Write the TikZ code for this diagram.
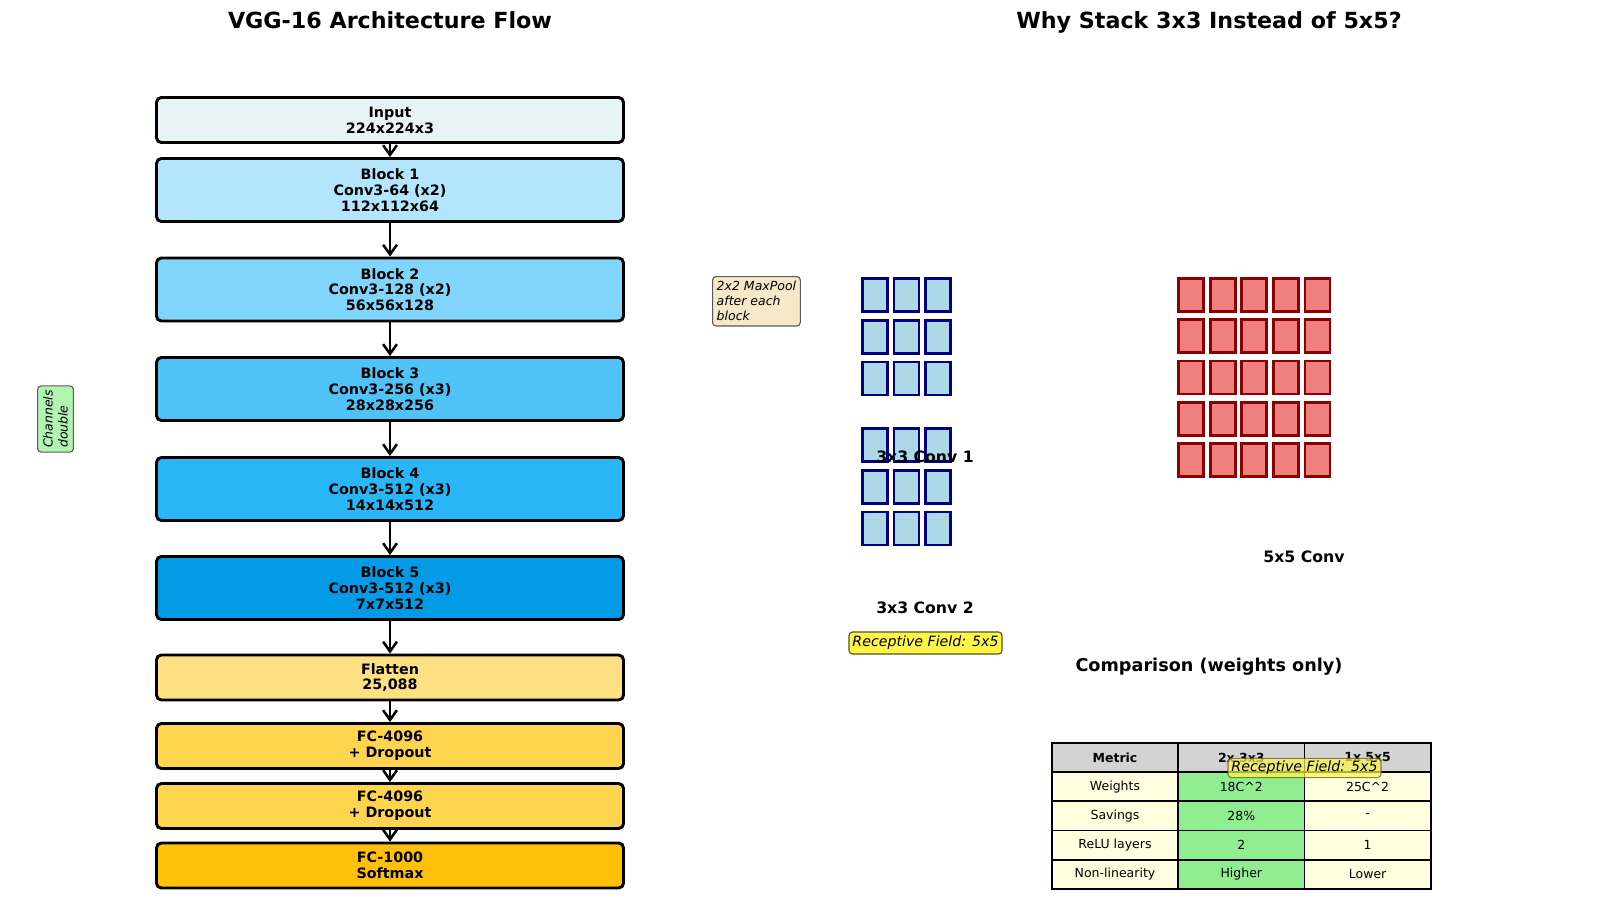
\documentclass[tikz,border=0pt]{standalone}
\usepackage{fontspec}
\setmainfont{DejaVu Sans}
\usetikzlibrary{arrows.meta}
\def\ppx{0.72pt}
\definecolor{cin}{HTML}{E8F3F8}
\definecolor{cbone}{HTML}{B3E5FC}
\definecolor{cbtwo}{HTML}{81D4FA}
\definecolor{cbthree}{HTML}{4FC3F7}
\definecolor{cbfour}{HTML}{29B6F6}
\definecolor{cbfive}{HTML}{039BE5}
\definecolor{cflat}{HTML}{FFE082}
\definecolor{cfc}{HTML}{FFD54F}
\definecolor{cout}{HTML}{FFC107}
\definecolor{notegreen}{HTML}{B1F3B1}
\definecolor{notewheat}{HTML}{F8E8CA}
\definecolor{kfill}{HTML}{ADD8E6}
\definecolor{kedge}{HTML}{000080}
\definecolor{rfill}{HTML}{F08080}
\definecolor{redge}{HTML}{8B0000}
\definecolor{hdgray}{HTML}{D3D3D3}
\definecolor{lyellow}{HTML}{FFFFE0}
\definecolor{lgreen}{HTML}{90EE90}
\definecolor{rfedge}{HTML}{55551E}
\begin{document}
\begin{tikzpicture}[x=\ppx,y=-\ppx,
	layer/.style={draw=black, line width=2.1pt, rounded corners=3.5pt, minimum width=467*\ppx, align=center, inner sep=0pt, font=\fontsize{10.3}{11.4}\selectfont\bfseries},
	tall/.style={layer, minimum height=63*\ppx},
	short/.style={layer, minimum height=45*\ppx},
	flow/.style={line width=1.8pt, -{Straight Barb[length=7pt,width=10pt,line width=1.8pt]}},
	note/.style={draw=black!65, line width=0.8pt, rounded corners=2.5pt, align=left, inner xsep=3pt, inner ysep=3.5pt, font=\fontsize{9}{10.8}\selectfont\itshape},
	rf/.style={draw=rfedge, fill=yellow!72, line width=0.8pt, rounded corners=2.5pt, inner xsep=2.5pt, inner ysep=3pt, font=\fontsize{10.2}{12}\selectfont\itshape},
	ttl/.style={font=\fontsize{16}{18}\selectfont\bfseries, text depth=0pt},
	lbl/.style={font=\fontsize{11.3}{13}\selectfont\bfseries},
	cell/.style={draw=black, line width=1.2pt, fill=lyellow, minimum width=126.3*\ppx, minimum height=29.2*\ppx, inner sep=0pt, font=\fontsize{9}{10}\selectfont},
	hd/.style={cell, fill=hdgray, font=\fontsize{9}{10}\selectfont\bfseries},
	kblue/.style={draw=kedge, fill=kfill, line width=2pt},
	kred/.style={draw=redge, fill=rfill, line width=2pt}]
	\useasboundingbox (0,0) rectangle (1600,909);
	\node[ttl] (tleft) at (390,20.5) {VGG-16 Architecture Flow};
	\node[ttl] (tright) at (1209,20.5) {Why Stack 3x3 Instead of 5x5?};
	\node[short, fill=cin] (inp) at (390,120) {Input\\224x224x3};
	\node[tall, fill=cbone] (b1) at (390,190) {Block 1\\Conv3-64 (x2)\\112x112x64};
	\node[tall, fill=cbtwo] (b2) at (390,289.5) {Block 2\\Conv3-128 (x2)\\56x56x128};
	\node[tall, fill=cbthree] (b3) at (390,389) {Block 3\\Conv3-256 (x3)\\28x28x256};
	\node[tall, fill=cbfour] (b4) at (390,489) {Block 4\\Conv3-512 (x3)\\14x14x512};
	\node[tall, fill=cbfive] (b5) at (390,588) {Block 5\\Conv3-512 (x3)\\7x7x512};
	\node[short, fill=cflat] (flat) at (390,677.5) {Flatten\\25,088};
	\node[short, fill=cfc] (fca) at (390,746) {FC-4096\\+ Dropout};
	\node[short, fill=cfc] (fcb) at (390,806) {FC-4096\\+ Dropout};
	\node[short, fill=cout] (fcc) at (390,865.5) {FC-1000\\Softmax};
	\foreach \a/\b in {inp/b1,b1/b2,b2/b3,b3/b4,b4/b5,b5/flat,flat/fca,fca/fcb,fcb/fcc}
		\draw[flow] (\a.south) -- (\b.north);
	\node[note, fill=notegreen, rotate=90, inner ysep=4pt, inner xsep=3pt] (chan) at (55.5,419) {Channels\\double};
	\node[note, fill=notewheat, anchor=north west] (pool) at (712,276) {2x2 MaxPool\\after each\\block};
	\foreach \i in {0,1,2}
		\foreach \j in {0,1,2} {
			\draw[kblue] ({862.5+31.5*\i},{278.5+41.75*\j}) rectangle ++(25,33);
			\draw[kblue] ({862.5+31.5*\i},{428.5+41.75*\j}) rectangle ++(25,33);
		}
	\foreach \i in {0,...,4}
		\foreach \j in {0,...,4}
			\draw[kred] ({1178.5+31.6*\i},{278.5+41.3*\j}) rectangle ++(25,33);
	\node[lbl] (conv1) at (925,457) {3x3 Conv 1};
	\node[lbl] (conv2) at (925,608) {3x3 Conv 2};
	\node[lbl] (conv5) at (1304,557) {5x5 Conv};
	\node[rf] (rfa) at (925.5,643) {Receptive Field: 5x5};
	\node[font=\fontsize{12.7}{14}\selectfont\bfseries] (cmp) at (1209,667) {Comparison (weights only)};
	\node[hd] (h1) at (1115,757.5) {Metric};
	\node[hd] (h2) at (1241.3,757.5) {2x 3x3};
	\node[hd] (h3) at (1367.6,757.5) {1x 5x5};
	\foreach \r/\y/\m/\s/\f in {1/786.7/Weights/18C\textasciicircum2/25C\textasciicircum2, 2/815.9/Savings/28\%/-, 3/845.1/ReLU layers/2/1, 4/874.3/Non-linearity/Higher/Lower} {
		\node[cell] (m\r) at (1115,\y) {\m};
		\node[cell, fill=lgreen] (s\r) at (1241.3,\y) {\s};
		\node[cell] (f\r) at (1367.6,\y) {\f};
	}
	\node[rf, fill opacity=0.7, draw opacity=0.7, text opacity=1, inner ysep=2pt] (rfb) at (1304.5,768) {Receptive Field: 5x5};
\end{tikzpicture}
\end{document}
